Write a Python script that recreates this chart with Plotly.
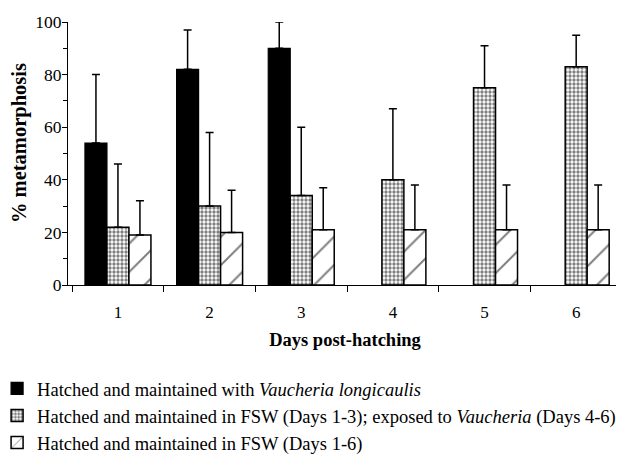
import plotly.graph_objects as go

days = ["1", "2", "3", "4", "5", "6"]
vauch = [54, 82, 90, None, None, None]
vauch_err_top = [80, 97, 100, None, None, None]
fsw_exp = [22, 30, 34, 40, 75, 83]
fsw_exp_err_top = [46, 58, 60, 67, 91, 95]
fsw = [19, 20, 21, 21, 21, 21]
fsw_err_top = [32, 36, 37, 38, 38, 38]

names = [
    "Hatched and maintained with <i>Vaucheria longicaulis</i>",
    "Hatched and maintained in FSW (Days 1-3); exposed to <i>Vaucheria</i> (Days 4-6)",
    "Hatched and maintained in FSW (Days 1-6)",
]

def up(vals, tops):
    return [(t - v) if (v is not None and t is not None) else None for v, t in zip(vals, tops)]

err_style = dict(type="data", symmetric=False, color="black", thickness=1.5, width=4)

fig = go.Figure()
fig.add_trace(go.Bar(
    x=days, y=vauch, name=names[0], legendgroup="a",
    marker=dict(color="black", line=dict(color="black", width=1.2)),
    error_y=dict(array=up(vauch, vauch_err_top), arrayminus=[0]*6, **err_style),
))
fig.add_trace(go.Bar(
    x=days, y=fsw_exp, name=names[1], legendgroup="b",
    marker=dict(color="white", line=dict(color="black", width=1.5),
                pattern=dict(shape=".", fgcolor="black", bgcolor="white", size=4, solidity=0.55, fillmode="overlay")),
    error_y=dict(array=up(fsw_exp, fsw_exp_err_top), arrayminus=[0]*6, **err_style),
))
fig.add_trace(go.Bar(
    x=days, y=fsw, name=names[2], legendgroup="c",
    marker=dict(color="white", line=dict(color="black", width=1.5),
                pattern=dict(shape="/", fgcolor="black", bgcolor="white", size=20, solidity=0.1, fillmode="overlay")),
    error_y=dict(array=up(fsw, fsw_err_top), arrayminus=[0]*6, **err_style),
))

font_family = "Liberation Serif"
fig.update_layout(
    width=616, height=446,
    margin=dict(l=60, r=2, t=14, b=169, autoexpand=False),
    paper_bgcolor="white", plot_bgcolor="white",
    barmode="group", bargap=0.28, bargroupgap=0,
    font=dict(family=font_family, size=17, color="black"),
    legend=dict(
        x=-0.128, xanchor="left", y=-0.323, yanchor="top",
        orientation="v", font=dict(size=18.5, family=font_family),
        traceorder="normal", tracegroupgap=3, itemwidth=30,
        bgcolor="rgba(0,0,0,0)",
    ),
    showlegend=True,
    annotations=[dict(
        text="<b>% metamorphosis</b>", textangle=-90,
        xref="paper", yref="paper", x=-0.0866, y=0.54,
        xanchor="center", yanchor="middle", showarrow=False,
        font=dict(size=20.5, family=font_family, color="black"),
    )],
)
fig.update_xaxes(
    type="category", range=[-0.545, 5.5], automargin=False,
    showline=True, linecolor="black", linewidth=1,
    ticks="outside", tickson="boundaries", ticklen=6, tickcolor="black",
    ticklabelstandoff=12,
    showgrid=False, zeroline=False,
    title=dict(text="<b>Days post-hatching</b>", standoff=11, font=dict(size=18.5, family=font_family)),
    tickfont=dict(size=17, family=font_family),
)
fig.update_yaxes(
    range=[0, 100], tickvals=[0, 20, 40, 60, 80, 100], automargin=False,
    showline=True, linecolor="black", linewidth=1,
    ticks="outside", ticklen=5, tickcolor="black",
    ticklabelstandoff=-3,
    minor=dict(dtick=10, ticks="outside", ticklen=4, tickcolor="black"),
    showgrid=False, zeroline=False,
    tickfont=dict(size=17.5, family=font_family),
)

fig.write_html("out.html")
